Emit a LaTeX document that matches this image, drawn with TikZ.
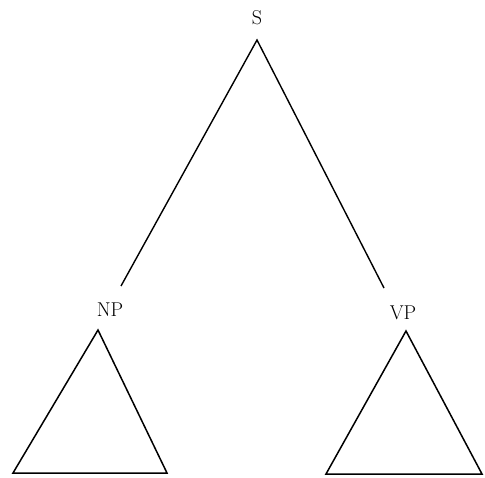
\documentclass[tikz,border=0pt]{standalone}
\usepackage{fontspec}
\begin{document}
\begin{tikzpicture}[x=1pt,y=-1pt,
  lbl/.style={font=\fontsize{20}{24}\selectfont, inner sep=0pt},
  edge/.style={line width=1.4pt, line join=miter},
  tri/.style={line width=1.5pt, line join=miter}]
\useasboundingbox (0,0) rectangle (485,478);
\node[lbl] (S) at (257,18) {S};
\node[lbl] (NP) at (110,310) {NP};
\node[lbl] (VP) at (403,313) {VP};
\coordinate (top) at (257,40);
\coordinate (npend) at (121,286);
\coordinate (vpend) at (384,288);
\draw[edge] (npend) -- (top) -- (vpend);
\coordinate (npa) at (98,330);
\coordinate (npl) at (13,473);
\coordinate (npr) at (167,473);
\draw[tri] (npa) -- (npl) -- (npr) -- cycle;
\coordinate (vpa) at (406,331);
\coordinate (vpl) at (326,474);
\coordinate (vpr) at (482,474);
\draw[tri] (vpa) -- (vpl) -- (vpr) -- cycle;
\end{tikzpicture}
\end{document}
